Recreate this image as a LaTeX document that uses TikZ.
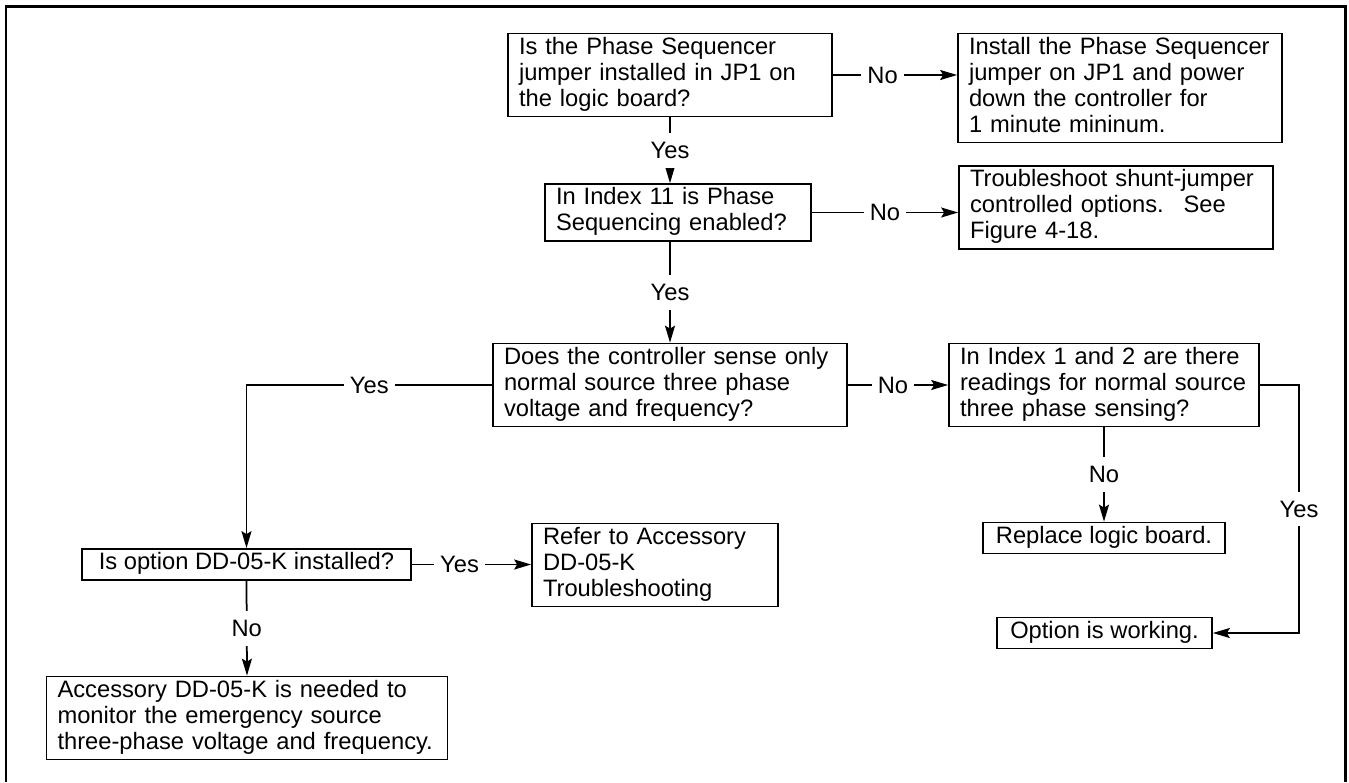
\documentclass[tikz,border=0pt]{standalone}
\usepackage{fontspec}
\setmainfont{Liberation Sans}
\usetikzlibrary{arrows.meta}
\begin{document}
\begin{tikzpicture}[x=0.02cm, y=-0.02cm, line width=0.035cm, line join=miter,
    caja/.style={draw, align=left, inner xsep=0.22cm, inner ysep=0.05cm,
      font=\fontsize{13.5}{14.8}\selectfont,
      execute at begin node=\strut, execute at end node=\strut},
    flecha/.style={-{Stealth[length=0.34cm, width=0.2cm, inset=0.06cm]}},
    rotulo/.style={fill=white, inner xsep=0.12cm, inner ysep=0.18cm,
      font=\fontsize{13.5}{14.8}\selectfont}]
  \useasboundingbox (0,0) rectangle (1349,782);
  % el marco, abierto por abajo
  \draw[line width=0.06cm] (6,782) -- (6,6) -- (1345,6) -- (1345,782);
  % las preguntas y las acciones
  \node[caja, text width=6.04cm] (jumper) at (670,75) {Is the Phase Sequencer\\ jumper installed in JP1 on\\ the logic board?};
  \node[caja, text width=6.04cm] (install) at (1120,88) {Install the Phase Sequencer\\ jumper on JP1 and power\\ down the controller for\\ 1 minute mininum.};
  \node[caja, text width=4.88cm] (index) at (678,212.5) {In Index 11 is Phase\\ Sequencing enabled?};
  \node[caja, text width=5.84cm] (shunt) at (1116,207.5) {Troubleshoot shunt-jumper\\ controlled options.~ See\\ Figure 4-18.};
  \node[caja, text width=6.64cm] (sense) at (670,385) {Does the controller sense only\\ normal source three phase\\ voltage and frequency?};
  \node[caja, text width=5.76cm] (readings) at (1104,385) {In Index 1 and 2 are there\\ readings for normal source\\ three phase sensing?};
  \node[caja, minimum width=6.58cm] (option) at (246.5,564.5) {Is option DD-05-K installed?};
  \node[caja, text width=4.48cm] (refer) at (655,565) {Refer to Accessory\\ DD-05-K\\ Troubleshooting};
  \node[caja, text width=7.58cm] (needed) at (247,718) {Accessory DD-05-K is needed to\\ monitor the emergency source\\ three-phase voltage and frequency.};
  \node[caja, minimum width=4.84cm] (replace) at (1104,538) {Replace logic board.};
  \node[caja, minimum width=4.30cm] (working) at (1104.5,633) {Option is working.};
  \coordinate (giro) at (1299,385);
  % las flechas del si y del no
  \draw[flecha] (jumper.east) -- (jumper.east -| install.west) node[rotulo, pos=0.4] {No};
  \draw[flecha] (jumper.south) -- (jumper.south |- index.north) node[rotulo, midway] {Yes};
  \draw[flecha] (index.east) -- (index.east -| shunt.west) node[rotulo, midway] {No};
  \draw[flecha] (index.south -| sense.north) -- (sense.north) node[rotulo, midway] {Yes};
  \draw[flecha] (sense.east) -- (sense.east -| readings.west) node[rotulo, pos=0.45] {No};
  \draw[flecha] (sense.west) -| (option.north) node[rotulo, pos=0.25] {Yes};
  \draw[flecha] (option.east) -- (option.east -| refer.west) node[rotulo, pos=0.4] {Yes};
  \draw[flecha] (option.south) -- (needed.north) node[rotulo, midway] {No};
  \draw[flecha] (readings.south) -- (replace.north) node[rotulo, midway] {No};
  \draw[flecha] (readings.east) -- (giro) |- (working.east) node[rotulo, pos=0.25] {Yes};
\end{tikzpicture}
\end{document}
